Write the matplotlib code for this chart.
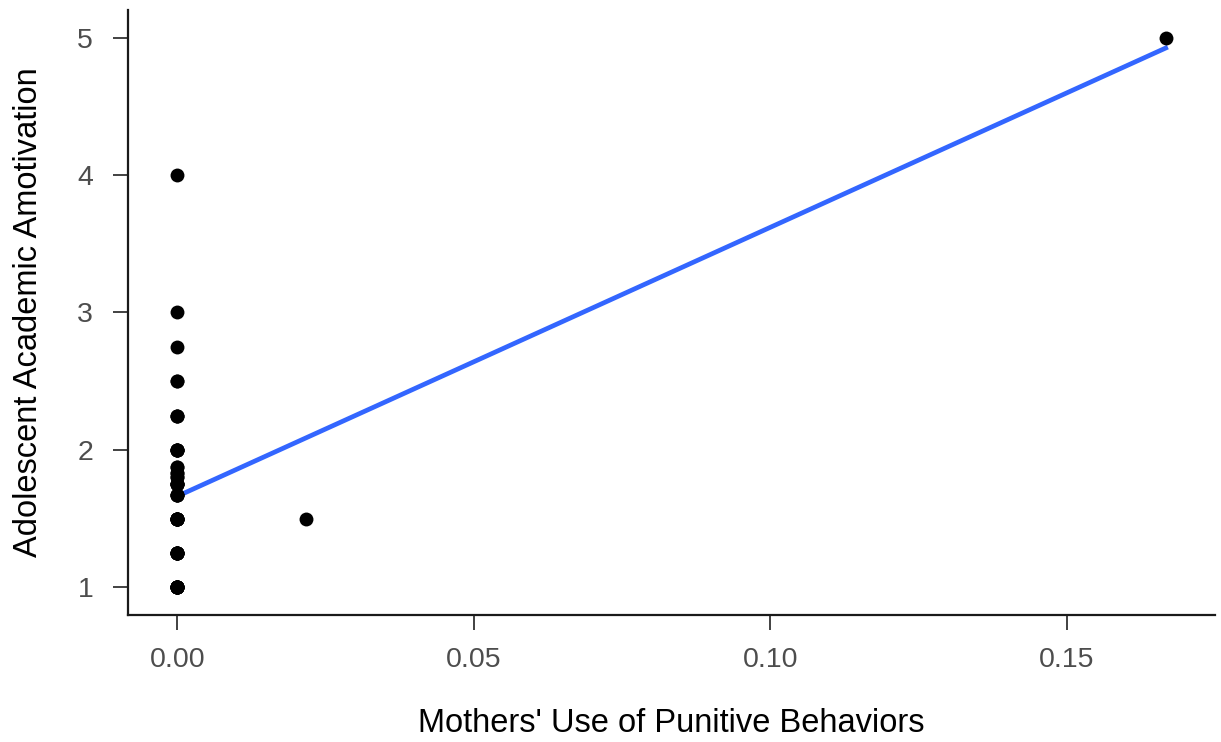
import numpy as np
import matplotlib.pyplot as plt

# Data ------------------------------------------------------------------
# amotivation scores observed at zero punitive behavior, with counts
zero_scores = [1.0, 1.25, 1.5, 1.67, 1.75, 1.8, 1.83, 1.875, 2.0, 2.25, 2.5, 2.75, 3.0, 4.0]
zero_counts = [10, 7, 8, 4, 5, 2, 2, 2, 5, 3, 2, 1, 1, 1]
# the two non-zero cases
other_punitive = [0.0217, 0.1667]
other_scores = [1.5, 5.0]

x = np.concatenate([np.zeros(sum(zero_counts)), other_punitive])
y = np.concatenate([np.repeat(zero_scores, zero_counts), other_scores])

# linear fit (like geom_smooth(method = "lm", se = FALSE))
slope, intercept = np.polyfit(x, y, 1)
xfit = np.array([x.min(), x.max()])
yfit = intercept + slope * xfit

plt.rcParams['font.family'] = ['Liberation Sans', 'DejaVu Sans']

fig = plt.figure(figsize=(12.21, 7.42), dpi=100)
ax = fig.add_axes([0.1048, 0.1712, 0.8902, 0.8153])

ax.scatter(x, y, s=100, color='black', zorder=3, linewidths=0)
ax.plot(xfit, yfit, color='#3366FF', linewidth=3.4, zorder=2)

ax.set_xlim(-0.00833, 0.175)
ax.set_ylim(0.8, 5.2)
ax.set_xticks([0.00, 0.05, 0.10, 0.15])
ax.set_xticklabels(['0.00', '0.05', '0.10', '0.15'])
ax.set_yticks([1, 2, 3, 4, 5])

for side in ['top', 'right']:
    ax.spines[side].set_visible(False)
for side in ['left', 'bottom']:
    ax.spines[side].set_linewidth(1.6)
    ax.spines[side].set_color('#1a1a1a')

ax.tick_params(axis='both', length=11, width=1.3, color='#333333',
               labelcolor='#4d4d4d', labelsize=20.5)
ax.tick_params(axis='x', pad=12)
ax.tick_params(axis='y', pad=14)

ax.set_xlabel("Mothers' Use of Punitive Behaviors", fontsize=23.5, labelpad=25)
ax.set_ylabel('Adolescent Academic Amotivation', fontsize=23.5, labelpad=24)

fig.savefig('out.png', dpi=100)
